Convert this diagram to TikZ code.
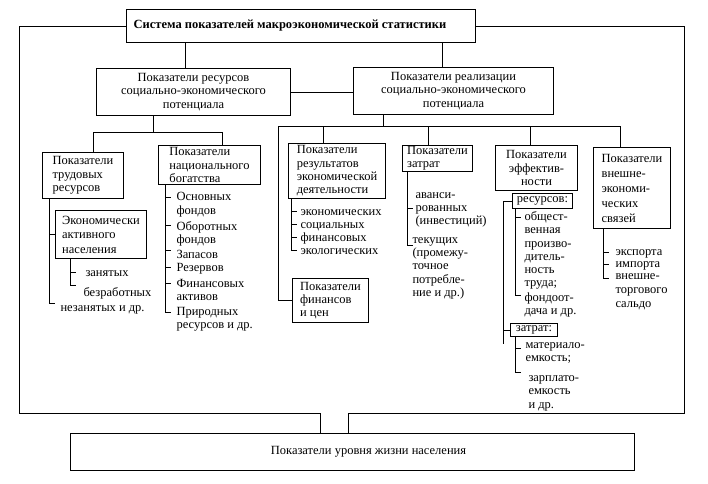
\documentclass[tikz,border=0pt]{standalone}
\usepackage{fontspec}
\setmainfont{Liberation Serif}
\usetikzlibrary{calc}

\begin{document}
\begin{tikzpicture}[x=1pt,y=-1pt,line width=1pt,
    every node/.style={font=\fontsize{12.5}{13.3}\selectfont},
    box/.style={draw, anchor=north west, inner sep=2pt},
    item/.style={anchor=north west, align=left, inner sep=0pt, execute at begin node=\strut}]
\useasboundingbox (0,0) rectangle (708,483);

% upper levels
\node[box, minimum width=349pt, minimum height=33pt] (sys) at (126,9) {\bfseries Система показателей макроэкономической статистики\hspace*{22pt}};
\node[box, minimum width=194pt, minimum height=47pt, align=center] (res) at (96,68) {Показатели ресурсов\\социально-экономического\\потенциала};
\node[box, minimum width=200pt, minimum height=47pt, align=center] (real) at (353,67) {Показатели реализации\\социально-экономического\\потенциала};
\node[box, minimum width=564pt, minimum height=37pt] (life) at (70,433) {\hspace*{32pt}Показатели уровня жизни населения};

% resources
\node[box, minimum width=81pt, minimum height=46pt, align=left] (trud) at (42,152) {Показатели\\трудовых\\ресурсов};
\node[box, minimum width=102pt, minimum height=39pt, align=left] (nac) at (158,145) {Показатели\\национального\\богатства};
\node[box, minimum width=91pt, minimum height=48pt, align=left, font=\fontsize{12.5}{14.5}\selectfont] (ekakt) at (55,210) {Экономически\\активного\\населения};

% realisation
\node[box, minimum width=97pt, minimum height=55pt, align=left] (rezult) at (288,143) {Показатели\\результатов\\экономической\\деятельности};
\node[box, inner sep=1pt, minimum width=70pt, minimum height=25pt, align=left] (zatr) at (402,145) {Показатели\\затрат};
\node[box, minimum width=76pt, minimum height=44pt, align=left] (fin) at (292,278) {Показатели\\финансов\\и цен};
\node[box, minimum width=82pt, minimum height=45pt, align=center] (eff) at (495,145) {Показатели\\эффектив-\\ности};
\node[box, minimum width=77pt, minimum height=81pt, align=left, font=\fontsize{12.5}{15}\selectfont] (vnesh) at (593,147) {Показатели\\внешне-\\экономи-\\ческих\\связей};
\node[box, inner sep=1pt, minimum width=60pt, minimum height=15pt] (resurs) at (512,193) {ресурсов:};
\node[box, inner sep=1pt, minimum width=47pt, minimum height=13pt] (zatrb) at (510,323) {затрат:};

% list items
\node[item] (nez) at (60,302) {незанятых и др.};
\node[item] (zan) at (85,267) {занятых};
\node[item] (bez) at (83,287) {безработных};
\node[item] (osn) at (176,192) {Основных\\фондов};
\node[item] (obor) at (176,221) {Оборотных\\фондов};
\node[item] (zap) at (176,249) {Запасов};
\node[item] (rez) at (176,262) {Резервов};
\node[item] (fina) at (176,279) {Финансовых\\активов};
\node[item] (prir) at (176,307) {Природных\\ресурсов и др.};
\node[item] (econ) at (300,206) {экономических};
\node[item] (soc) at (300,219) {социальных};
\node[item] (finn) at (300,232) {финансовых};
\node[item] (ecol) at (300,245) {экологических};
\node[item] (avans) at (415,192) {аванси-\\рованных\\(инвестиций)};
\node[item] (tek) at (412,237) {текущих\\(промежу-\\точное\\потребле-\\ние и др.)};
\node[item] (obsh) at (524,211) {общест-\\венная\\произво-\\дитель-\\ность\\труда;};
\node[item] (fondo) at (524,292) {фондоот-\\дача и др.};
\node[item] (mat) at (525,342) {материало-\\емкость;};
\node[item] (zarp) at (528,375) {зарплато-\\емкость\\и др.};
\node[item] (exp) at (615,246) {экспорта};
\node[item] (imp) at (615,258) {импорта};
\node[item, font=\fontsize{12.5}{14}\selectfont] (vts) at (615,273) {внешне-\\торгового\\сальдо};

% frame round everything
\coordinate (fl) at (19,413);
\coordinate (fr) at (684,413);
\coordinate (ll) at (320,413);
\coordinate (lr) at (348,413);
\draw (sys.west) -| (fl) -- (ll) -- (ll |- life.north);
\draw (sys.east) -| (fr) -- (lr) -- (lr |- life.north);

% top connections
\path (res.north) ++(-8,0) coordinate (jres);
\path (real.north) ++(-11,0) coordinate (jreal);
\draw (jres) -- (jres |- sys.south);
\draw (jreal) -- (jreal |- sys.south);
\draw (res.east) -- (res.east -| real.west);

% resources branch
\coordinate (hl) at (153,132);
\coordinate (ht) at (93,132);
\coordinate (hn) at (222,132);
\draw (res.south -| hl) -- (hl);
\draw (trud.north -| ht) -- (ht) -- (hn) -- (hn |- nac.north);

% realisation branch
\coordinate (hr) at (383,126);
\coordinate (hf) at (278,126);
\coordinate (hp) at (323,126);
\coordinate (hz) at (428,126);
\coordinate (he) at (530,126);
\coordinate (hv) at (620,126);
\draw (real.south -| hr) -- (hr);
\draw (fin.west) -| (hf) -- (hv) -- (hv |- vnesh.north);
\draw (hp) -- (hp |- rezult.north);
\draw (hz) -- (hz |- zatr.north);
\draw (he) -- (he |- eff.north);

% labour resources
\path (trud.south west) ++(7,0) coordinate (vt);
\draw (ekakt.west -| vt) -- (ekakt.west);
\draw (vt) -- ($(vt |- nez.north)+(0,1)$) -- ++(6,0);
\path (ekakt.south west) ++(15,0) coordinate (vek);
\draw ($(vek |- zan.north)+(0,5)$) -- ++(6,0);
\draw (vek) -- ($(vek |- bez.north)+(0,-2)$) -- ++(6,0);

% national wealth
\path (nac.south west) ++(7,0) coordinate (vnac);
\foreach \n/\d in {osn/5, obor/4, zap/1, rez/5, fina/4}
  \draw ($(vnac |- \n.north)+(0,\d)$) -- ++(6,0);
\draw (vnac) -- ($(vnac |- prir.north)+(0,5)$) -- ++(6,0);

% results
\path (rezult.south west) ++(3,0) coordinate (vrez);
\foreach \n in {econ, soc, finn}
  \draw ($(vrez |- \n.north)+(0,5)$) -- ++(6,0);
\draw (vrez) -- ($(vrez |- ecol.north)+(0,5)$) -- ++(6,0);

% costs
\path (zatr.south west) ++(5,0) coordinate (vzatr);
\draw ($(vzatr |- avans.north)+(0,16)$) -- ++(6,0);
\draw (vzatr) -- ($(vzatr |- tek.north)+(0,8)$) -- ++(6,0);

% efficiency
\path (resurs.west) ++(-9,0) coordinate (veff);
\draw (resurs.west) -- (veff) -- ($(veff |- zatrb.west)+(0,14)$);
\draw (zatrb.west) -- (zatrb.west -| veff);
\path (resurs.south west) ++(3,0) coordinate (vres);
\draw ($(vres |- obsh.north)+(0,6)$) -- ++(6,0);
\draw (vres) -- ($(vres |- fondo.north)+(0,3)$) -- ++(6,0);
\path (zatrb.south west) ++(5,0) coordinate (vzb);
\draw ($(vzb |- mat.north)+(0,6)$) -- ++(6,0);
\draw (vzb) -- ($(vzb |- zarp.north)+(0,-3)$) -- ++(6,0);

% foreign economic links
\path (vnesh.south west) ++(10,0) coordinate (vvn);
\draw ($(vvn |- exp.north)+(0,6)$) -- ++(6,0);
\draw ($(vvn |- imp.north)+(0,6)$) -- ++(6,0);
\draw (vvn) -- ($(vvn |- vts.north)+(0,5)$) -- ++(6,0);
\end{tikzpicture}
\end{document}
